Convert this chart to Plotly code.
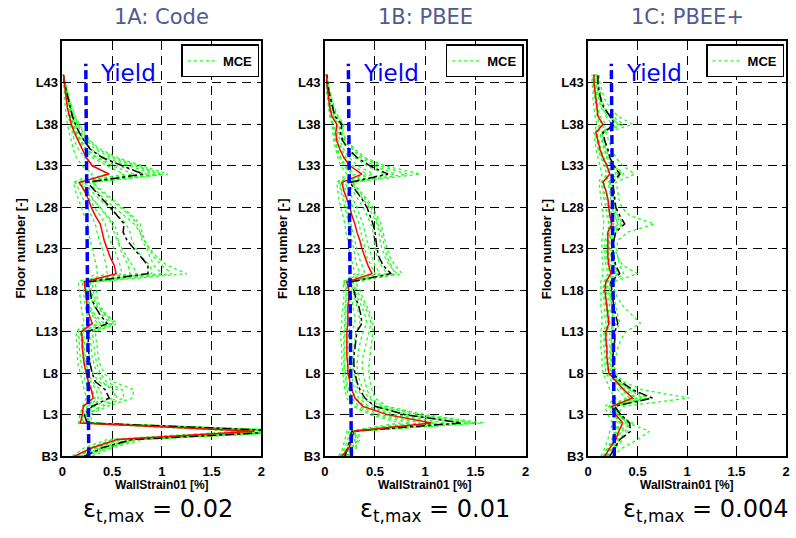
import plotly.graph_objects as go

W, H = 796, 538

# ---------------- data ----------------
floors = list(range(47))  # 0 = B3 ... 45 = L43, 46 = roof
tick_vals = [0, 5, 10, 15, 20, 25, 30, 35, 40, 45]
tick_text = ["B3", "L3", "L8", "L13", "L18", "L23", "L28", "L33", "L38", "L43"]
x_ticks = [0, 0.5, 1, 1.5, 2]
x_ticktext = ["0", "0.5", "1", "1.5", "2"]

panel_titles = ["1A: Code", "1B: PBEE", "1C: PBEE+"]
eps_values = ["0.02", "0.01", "0.004"]
yield_x = [0.265, 0.235]      # bottom, top
yield_y = [0, 47.3]

code_mean = [0.12, 0.30, 0.55, 1.93, 0.18, 0.20, 0.21, 0.31, 0.29, 0.26,
             0.24, 0.22, 0.21, 0.20, 0.20, 0.19, 0.30, 0.27, 0.25, 0.24,
             0.23, 0.22, 0.54, 0.52, 0.48, 0.45, 0.42, 0.40, 0.38, 0.33,
             0.29, 0.26, 0.22, 0.17, 0.47, 0.30, 0.24, 0.20, 0.16, 0.12,
             0.09, 0.07, 0.05, 0.04, 0.03, 0.02, 0.01]
code_upper = [0.22, 0.40, 0.70, 2.30, 0.25, 0.22, 0.30, 0.47, 0.43, 0.33,
              0.30, 0.28, 0.27, 0.26, 0.26, 0.26, 0.45, 0.38, 0.33, 0.29,
              0.28, 0.25, 0.86, 0.86, 0.79, 0.72, 0.65, 0.61, 0.62, 0.55,
              0.48, 0.40, 0.32, 0.25, 0.81, 0.60, 0.40, 0.28, 0.22, 0.17,
              0.13, 0.10, 0.08, 0.06, 0.04, 0.02, 0.01]
code_records = [
    [0.30, 0.50, 0.80, 2.50, 0.30, 0.28, 0.45, 0.70, 0.72, 0.50,
     0.42, 0.38, 0.36, 0.35, 0.34, 0.33, 0.55, 0.45, 0.38, 0.35,
     0.34, 0.33, 1.25, 1.05, 0.95, 0.88, 0.82, 0.78, 0.75, 0.68,
     0.58, 0.48, 0.38, 0.30, 1.06, 0.80, 0.55, 0.38, 0.28, 0.22,
     0.17, 0.13, 0.10, 0.07, 0.05, 0.03, 0.01],
    [0.25, 0.45, 0.75, 2.40, 0.26, 0.24, 0.38, 0.55, 0.50, 0.40,
     0.35, 0.32, 0.30, 0.29, 0.28, 0.27, 0.50, 0.42, 0.35, 0.31,
     0.29, 0.28, 1.00, 0.92, 0.88, 0.85, 0.80, 0.78, 0.72, 0.62,
     0.52, 0.42, 0.34, 0.27, 0.98, 0.72, 0.48, 0.33, 0.25, 0.19,
     0.15, 0.11, 0.08, 0.06, 0.04, 0.02, 0.01],
    [0.10, 0.22, 0.45, 1.80, 0.16, 0.18, 0.20, 0.24, 0.22, 0.20,
     0.18, 0.16, 0.15, 0.15, 0.14, 0.14, 0.22, 0.20, 0.19, 0.18,
     0.17, 0.16, 0.35, 0.34, 0.32, 0.30, 0.28, 0.26, 0.25, 0.22,
     0.19, 0.16, 0.13, 0.11, 0.30, 0.20, 0.14, 0.11, 0.09, 0.07,
     0.05, 0.04, 0.03, 0.02, 0.02, 0.01, 0.01],
    [0.15, 0.35, 0.60, 2.20, 0.20, 0.21, 0.28, 0.40, 0.38, 0.30,
     0.26, 0.24, 0.23, 0.22, 0.22, 0.21, 0.42, 0.33, 0.28, 0.26,
     0.25, 0.24, 0.75, 0.70, 0.65, 0.60, 0.55, 0.52, 0.50, 0.44,
     0.37, 0.31, 0.25, 0.20, 0.85, 0.55, 0.35, 0.25, 0.19, 0.15,
     0.11, 0.09, 0.07, 0.05, 0.03, 0.02, 0.01],
    [0.18, 0.38, 0.65, 2.30, 0.22, 0.19, 0.25, 0.33, 0.30, 0.26,
     0.24, 0.22, 0.21, 0.20, 0.19, 0.18, 0.35, 0.30, 0.26, 0.24,
     0.23, 0.22, 0.60, 0.58, 0.55, 0.52, 0.48, 0.45, 0.43, 0.38,
     0.32, 0.27, 0.22, 0.16, 0.62, 0.45, 0.30, 0.22, 0.17, 0.13,
     0.10, 0.08, 0.06, 0.04, 0.03, 0.02, 0.01],
    [0.14, 0.28, 0.50, 2.10, 0.17, 0.17, 0.22, 0.28, 0.26, 0.23,
     0.21, 0.19, 0.18, 0.17, 0.17, 0.16, 0.28, 0.25, 0.23, 0.22,
     0.21, 0.20, 0.45, 0.44, 0.42, 0.40, 0.37, 0.35, 0.33, 0.29,
     0.25, 0.21, 0.17, 0.13, 0.45, 0.32, 0.22, 0.16, 0.12, 0.10,
     0.08, 0.06, 0.05, 0.04, 0.03, 0.02, 0.01],
    [0.20, 0.42, 0.70, 2.40, 0.24, 0.23, 0.32, 0.50, 0.55, 0.36,
     0.31, 0.28, 0.27, 0.26, 0.25, 0.24, 0.48, 0.40, 0.32, 0.29,
     0.27, 0.26, 0.90, 0.88, 0.80, 0.74, 0.70, 0.68, 0.64, 0.56,
     0.46, 0.37, 0.29, 0.22, 0.92, 0.66, 0.42, 0.29, 0.22, 0.17,
     0.13, 0.10, 0.08, 0.05, 0.04, 0.02, 0.01],
    [0.16, 0.32, 0.58, 2.25, 0.21, 0.22, 0.26, 0.36, 0.34, 0.28,
     0.25, 0.23, 0.22, 0.21, 0.21, 0.20, 0.38, 0.31, 0.27, 0.25,
     0.24, 0.23, 0.68, 0.66, 0.62, 0.58, 0.56, 0.55, 0.52, 0.45,
     0.38, 0.30, 0.24, 0.18, 0.72, 0.50, 0.33, 0.24, 0.18, 0.14,
     0.11, 0.08, 0.06, 0.04, 0.03, 0.02, 0.01],
    [0.22, 0.46, 0.72, 2.45, 0.27, 0.25, 0.40, 0.62, 0.60, 0.44,
     0.38, 0.35, 0.33, 0.32, 0.31, 0.30, 0.52, 0.44, 0.36, 0.33,
     0.31, 0.30, 1.10, 1.00, 0.92, 0.87, 0.83, 0.80, 0.78, 0.70,
     0.60, 0.50, 0.40, 0.30, 1.00, 0.76, 0.52, 0.36, 0.27, 0.21,
     0.16, 0.12, 0.09, 0.07, 0.05, 0.03, 0.01],
]

pbee_mean = [0.17, 0.24, 0.27, 0.29, 1.06, 0.62, 0.38, 0.30, 0.27, 0.25,
             0.23, 0.23, 0.22, 0.22, 0.22, 0.22, 0.23, 0.23, 0.23, 0.24,
             0.24, 0.22, 0.47, 0.43, 0.40, 0.37, 0.35, 0.32, 0.30, 0.27,
             0.25, 0.22, 0.19, 0.17, 0.37, 0.25, 0.19, 0.15, 0.12, 0.11,
             0.12, 0.07, 0.05, 0.04, 0.03, 0.02, 0.02]
pbee_upper = [0.20, 0.23, 0.25, 0.27, 1.36, 0.80, 0.50, 0.40, 0.35, 0.32,
              0.30, 0.29, 0.29, 0.30, 0.31, 0.32, 0.37, 0.36, 0.34, 0.31,
              0.29, 0.25, 0.66, 0.58, 0.54, 0.52, 0.51, 0.50, 0.48, 0.45,
              0.42, 0.37, 0.31, 0.25, 0.63, 0.45, 0.32, 0.24, 0.18, 0.155,
              0.17, 0.10, 0.08, 0.06, 0.04, 0.03, 0.02]
pbee_records = [
    [0.22, 0.30, 0.35, 0.33, 1.58, 1.00, 0.62, 0.50, 0.47, 0.45,
     0.44, 0.44, 0.45, 0.46, 0.47, 0.48, 0.48, 0.46, 0.42, 0.38,
     0.35, 0.30, 0.77, 0.70, 0.65, 0.62, 0.60, 0.58, 0.56, 0.52,
     0.48, 0.42, 0.35, 0.28, 0.95, 0.60, 0.40, 0.30, 0.22, 0.18,
     0.19, 0.13, 0.10, 0.07, 0.05, 0.03, 0.02],
    [0.19, 0.26, 0.34, 0.28, 1.45, 0.90, 0.55, 0.44, 0.38, 0.35,
     0.33, 0.32, 0.33, 0.34, 0.36, 0.38, 0.42, 0.40, 0.37, 0.33,
     0.30, 0.27, 0.72, 0.64, 0.60, 0.57, 0.55, 0.54, 0.52, 0.48,
     0.44, 0.38, 0.32, 0.26, 0.70, 0.50, 0.35, 0.27, 0.20, 0.16,
     0.17, 0.11, 0.08, 0.06, 0.04, 0.03, 0.02],
    [0.14, 0.18, 0.20, 0.22, 0.75, 0.45, 0.28, 0.22, 0.20, 0.19,
     0.18, 0.17, 0.17, 0.17, 0.16, 0.16, 0.17, 0.17, 0.18, 0.19,
     0.19, 0.18, 0.30, 0.28, 0.26, 0.24, 0.23, 0.21, 0.20, 0.18,
     0.16, 0.14, 0.13, 0.12, 0.22, 0.16, 0.13, 0.11, 0.09, 0.08,
     0.07, 0.05, 0.04, 0.03, 0.02, 0.02, 0.01],
    [0.16, 0.22, 0.25, 0.26, 0.95, 0.55, 0.34, 0.27, 0.24, 0.22,
     0.21, 0.20, 0.20, 0.20, 0.20, 0.20, 0.21, 0.21, 0.21, 0.22,
     0.22, 0.20, 0.40, 0.37, 0.34, 0.32, 0.30, 0.28, 0.26, 0.24,
     0.22, 0.20, 0.17, 0.15, 0.30, 0.21, 0.16, 0.13, 0.11, 0.10,
     0.09, 0.06, 0.05, 0.04, 0.03, 0.02, 0.01],
    [0.18, 0.25, 0.28, 0.30, 1.20, 0.70, 0.44, 0.34, 0.30, 0.28,
     0.26, 0.25, 0.25, 0.25, 0.26, 0.27, 0.30, 0.30, 0.28, 0.27,
     0.26, 0.23, 0.55, 0.50, 0.47, 0.44, 0.42, 0.40, 0.38, 0.35,
     0.32, 0.28, 0.24, 0.20, 0.48, 0.33, 0.24, 0.19, 0.15, 0.13,
     0.13, 0.09, 0.07, 0.05, 0.03, 0.02, 0.02],
    [0.15, 0.20, 0.23, 0.24, 0.85, 0.50, 0.30, 0.25, 0.22, 0.21,
     0.20, 0.19, 0.19, 0.19, 0.19, 0.19, 0.20, 0.20, 0.20, 0.21,
     0.21, 0.19, 0.35, 0.32, 0.30, 0.29, 0.27, 0.25, 0.24, 0.22,
     0.20, 0.18, 0.16, 0.14, 0.27, 0.19, 0.15, 0.12, 0.10, 0.09,
     0.08, 0.06, 0.04, 0.03, 0.02, 0.02, 0.01],
    [0.20, 0.28, 0.30, 0.31, 1.35, 0.82, 0.50, 0.38, 0.33, 0.31,
     0.29, 0.28, 0.28, 0.29, 0.30, 0.31, 0.35, 0.34, 0.32, 0.30,
     0.28, 0.25, 0.62, 0.56, 0.52, 0.50, 0.49, 0.48, 0.46, 0.42,
     0.38, 0.33, 0.28, 0.23, 0.60, 0.42, 0.30, 0.23, 0.17, 0.14,
     0.15, 0.10, 0.08, 0.06, 0.04, 0.03, 0.02],
    [0.17, 0.23, 0.26, 0.27, 1.10, 0.65, 0.40, 0.31, 0.27, 0.25,
     0.24, 0.23, 0.23, 0.23, 0.23, 0.24, 0.26, 0.26, 0.25, 0.25,
     0.24, 0.22, 0.50, 0.46, 0.42, 0.40, 0.38, 0.36, 0.34, 0.31,
     0.28, 0.25, 0.21, 0.18, 0.42, 0.28, 0.21, 0.17, 0.13, 0.12,
     0.12, 0.08, 0.06, 0.05, 0.03, 0.02, 0.02],
    [0.21, 0.32, 0.30, 0.32, 1.50, 0.95, 0.58, 0.46, 0.42, 0.40,
     0.38, 0.37, 0.38, 0.40, 0.42, 0.44, 0.46, 0.44, 0.40, 0.36,
     0.32, 0.28, 0.70, 0.66, 0.62, 0.60, 0.58, 0.56, 0.53, 0.50,
     0.46, 0.40, 0.34, 0.27, 0.82, 0.55, 0.38, 0.28, 0.21, 0.17,
     0.18, 0.12, 0.09, 0.07, 0.05, 0.03, 0.02],
]

plus_mean = [0.17, 0.22, 0.28, 0.31, 0.35, 0.28, 0.24, 0.45, 0.36, 0.28,
             0.21, 0.20, 0.19, 0.19, 0.18, 0.18, 0.21, 0.20, 0.19, 0.18,
             0.17, 0.18, 0.23, 0.21, 0.20, 0.20, 0.20, 0.20, 0.24, 0.22,
             0.21, 0.20, 0.18, 0.15, 0.22, 0.19, 0.15, 0.12, 0.10, 0.08,
             0.15, 0.10, 0.09, 0.08, 0.07, 0.06, 0.06]
plus_upper = [0.22, 0.27, 0.32, 0.43, 0.42, 0.33, 0.27, 0.65, 0.45, 0.33,
              0.25, 0.25, 0.25, 0.26, 0.27, 0.27, 0.30, 0.28, 0.26, 0.25,
              0.24, 0.23, 0.32, 0.28, 0.26, 0.25, 0.26, 0.28, 0.37, 0.32,
              0.28, 0.27, 0.26, 0.25, 0.32, 0.26, 0.22, 0.20, 0.17, 0.15,
              0.27, 0.22, 0.16, 0.13, 0.11, 0.10, 0.10]
plus_records = [
    [0.25, 0.35, 0.50, 0.62, 0.40, 0.30, 0.35, 1.02, 0.55, 0.35,
     0.28, 0.26, 0.25, 0.24, 0.24, 0.24, 0.26, 0.25, 0.24, 0.23,
     0.22, 0.22, 0.30, 0.27, 0.25, 0.24, 0.24, 0.25, 0.30, 0.27,
     0.25, 0.24, 0.23, 0.22, 0.28, 0.23, 0.19, 0.17, 0.15, 0.14,
     0.24, 0.18, 0.15, 0.12, 0.11, 0.10, 0.09],
    [0.20, 0.25, 0.30, 0.33, 0.38, 0.30, 0.26, 0.55, 0.42, 0.32,
     0.25, 0.24, 0.24, 0.25, 0.26, 0.27, 0.32, 0.30, 0.28, 0.27,
     0.26, 0.25, 0.36, 0.32, 0.30, 0.29, 0.30, 0.40, 0.67, 0.42,
     0.34, 0.31, 0.30, 0.28, 0.47, 0.35, 0.28, 0.24, 0.21, 0.18,
     0.45, 0.30, 0.22, 0.17, 0.14, 0.12, 0.11],
    [0.18, 0.24, 0.28, 0.34, 0.45, 0.30, 0.25, 0.60, 0.44, 0.30,
     0.24, 0.26, 0.28, 0.30, 0.33, 0.38, 0.53, 0.45, 0.36, 0.30,
     0.27, 0.25, 0.50, 0.35, 0.30, 0.27, 0.26, 0.27, 0.35, 0.30,
     0.27, 0.26, 0.25, 0.24, 0.36, 0.27, 0.22, 0.19, 0.17, 0.15,
     0.30, 0.22, 0.17, 0.14, 0.12, 0.10, 0.09],
    [0.13, 0.17, 0.20, 0.22, 0.25, 0.20, 0.17, 0.28, 0.22, 0.19,
     0.15, 0.14, 0.14, 0.13, 0.13, 0.13, 0.14, 0.14, 0.13, 0.13,
     0.13, 0.13, 0.15, 0.15, 0.14, 0.14, 0.14, 0.15, 0.16, 0.15,
     0.14, 0.13, 0.12, 0.11, 0.14, 0.12, 0.10, 0.08, 0.07, 0.06,
     0.09, 0.07, 0.06, 0.05, 0.05, 0.04, 0.04],
    [0.15, 0.20, 0.24, 0.27, 0.30, 0.24, 0.21, 0.38, 0.30, 0.24,
     0.18, 0.17, 0.17, 0.16, 0.16, 0.16, 0.18, 0.17, 0.16, 0.16,
     0.15, 0.16, 0.20, 0.18, 0.17, 0.17, 0.17, 0.20, 0.21, 0.19,
     0.18, 0.16, 0.15, 0.13, 0.19, 0.16, 0.13, 0.10, 0.09, 0.07,
     0.12, 0.09, 0.08, 0.07, 0.06, 0.05, 0.05],
    [0.17, 0.22, 0.26, 0.29, 0.33, 0.27, 0.22, 0.42, 0.34, 0.27,
     0.20, 0.19, 0.18, 0.18, 0.17, 0.17, 0.20, 0.19, 0.18, 0.17,
     0.16, 0.17, 0.22, 0.20, 0.19, 0.19, 0.19, 0.22, 0.23, 0.21,
     0.20, 0.18, 0.16, 0.14, 0.21, 0.18, 0.14, 0.11, 0.10, 0.08,
     0.14, 0.10, 0.09, 0.08, 0.07, 0.06, 0.06],
    [0.20, 0.28, 0.35, 0.40, 0.42, 0.32, 0.27, 0.50, 0.38, 0.30,
     0.23, 0.22, 0.22, 0.22, 0.22, 0.22, 0.26, 0.24, 0.22, 0.21,
     0.20, 0.20, 0.28, 0.25, 0.23, 0.22, 0.22, 0.24, 0.30, 0.27,
     0.24, 0.23, 0.22, 0.20, 0.30, 0.24, 0.19, 0.16, 0.14, 0.12,
     0.32, 0.20, 0.13, 0.11, 0.09, 0.08, 0.08],
    [0.16, 0.21, 0.25, 0.28, 0.32, 0.26, 0.23, 0.48, 0.36, 0.28,
     0.21, 0.20, 0.20, 0.19, 0.19, 0.19, 0.22, 0.21, 0.20, 0.19,
     0.18, 0.19, 0.25, 0.23, 0.21, 0.21, 0.21, 0.23, 0.26, 0.24,
     0.22, 0.20, 0.18, 0.16, 0.24, 0.20, 0.16, 0.13, 0.11, 0.09,
     0.18, 0.12, 0.10, 0.09, 0.08, 0.07, 0.07],
    [0.19, 0.26, 0.32, 0.38, 0.40, 0.31, 0.26, 0.62, 0.42, 0.32,
     0.24, 0.23, 0.23, 0.23, 0.24, 0.24, 0.28, 0.26, 0.24, 0.23,
     0.22, 0.22, 0.30, 0.27, 0.25, 0.24, 0.24, 0.26, 0.33, 0.29,
     0.26, 0.25, 0.24, 0.22, 0.34, 0.26, 0.21, 0.18, 0.16, 0.14,
     0.36, 0.24, 0.15, 0.12, 0.10, 0.09, 0.09],
]

panels = [
    (code_records, code_upper, code_mean),
    (pbee_records, pbee_upper, pbee_mean),
    (plus_records, plus_upper, plus_mean),
]

# ---------------- layout geometry (pixels) ----------------
x_px = [(59, 260), (324, 527), (590, 790)]
y_top, y_bot = 42, 463
ydom = [1 - y_bot / H, 1 - y_top / H]

ARIAL = "Arial, Liberation Sans, sans-serif"
TICK_FONT = dict(family=ARIAL, size=13, color="black")
GREEN = "#1fff1f"

fig = go.Figure()

for i, (records, upper, mean) in enumerate(panels):
    sfx = "" if i == 0 else str(i + 1)
    xa, ya = "x" + sfx, "y" + sfx
    leg = "legend" + sfx
    for j, rec in enumerate(records):
        fig.add_trace(go.Scatter(
            x=rec, y=floors, mode="lines", xaxis=xa, yaxis=ya,
            line=dict(color=GREEN, width=1.3, dash="dot"),
            name="<b>MCE</b>", legend=leg, showlegend=(j == 0),
            hoverinfo="skip"))
    fig.add_trace(go.Scatter(
        x=upper, y=floors, mode="lines", xaxis=xa, yaxis=ya,
        line=dict(color="black", width=1.5, dash="dashdot"),
        showlegend=False, hoverinfo="skip"))
    fig.add_trace(go.Scatter(
        x=mean, y=floors, mode="lines", xaxis=xa, yaxis=ya,
        line=dict(color="red", width=1.5),
        showlegend=False, hoverinfo="skip"))
    fig.add_trace(go.Scatter(
        x=yield_x, y=yield_y, mode="lines", xaxis=xa, yaxis=ya,
        line=dict(color="blue", width=3.5, dash="9px,4px"),
        showlegend=False, hoverinfo="skip"))

    x0, x1 = x_px[i]
    axis_common = dict(
        showline=True, linecolor="black", linewidth=1.5, mirror="ticks",
        ticks="inside", ticklen=4, tickcolor="black",
        showgrid=True, gridcolor="black", gridwidth=1, griddash="9px,6px",
        zeroline=False, tickfont=TICK_FONT,
    )
    fig.update_layout(**{
        "xaxis" + sfx: dict(axis_common, domain=[x0 / W, x1 / W], range=[0, 2],
                            anchor=ya, tickvals=x_ticks, ticklabelstandoff=3,
                            ticktext=["<b>%s</b>" % t for t in x_ticktext]),
        "yaxis" + sfx: dict(axis_common, domain=ydom, range=[0, 50], anchor=xa,
                            tickvals=tick_vals,
                            ticktext=["<b>%s</b>" % t for t in tick_text]),
        leg: dict(x=(x1 - 2) / W, xanchor="right", y=1 - (y_top + 3) / H, yanchor="top",
                  bgcolor="white", bordercolor="black", borderwidth=1.5,
                  font=dict(family=ARIAL, size=13, color="black"),
                  itemwidth=30, tracegroupgap=0),
    })

    cx = (x0 + x1) / 2
    # panel title
    fig.add_annotation(x=cx / W, y=1 - 17 / H, xref="paper", yref="paper",
                       text=panel_titles[i], showarrow=False,
                       font=dict(family="DejaVu Sans", size=21, color="#505a92"),
                       xanchor="center", yanchor="middle")
    # Yield label
    fig.add_annotation(x=0.36, y=46.2, xref=xa, yref=ya, text="Yield",
                       showarrow=False, xanchor="left", yanchor="middle",
                       font=dict(family="DejaVu Sans", size=23, color="blue"))
    # axis titles
    fig.add_annotation(x=(x0 - 42) / W, y=(ydom[0] + ydom[1]) / 2, xref="paper", yref="paper",
                       text="<b>Floor number [-]</b>", textangle=-90, showarrow=False,
                       font=dict(family=ARIAL, size=13, color="black"),
                       xanchor="center", yanchor="middle")
    fig.add_annotation(x=cx / W, y=1 - 492 / H, xref="paper", yref="paper",
                       text="<b>WallStrain01 [%]</b>", showarrow=False,
                       font=dict(family=ARIAL, size=12, color="black"),
                       xanchor="center", yanchor="middle")
    # epsilon label
    eps_cx = [156, 435, 709][i]
    fig.add_annotation(x=eps_cx / W, y=1 - 518 / H, xref="paper", yref="paper",
                       text="ε<sub>t,max</sub> = " + eps_values[i], showarrow=False,
                       font=dict(family="DejaVu Sans", size=24, color="black"),
                       xanchor="center", yanchor="middle")

fig.update_layout(
    width=W, height=H, margin=dict(l=0, r=0, t=0, b=0),
    paper_bgcolor="white", plot_bgcolor="white",
)

fig.write_html("out.html")
